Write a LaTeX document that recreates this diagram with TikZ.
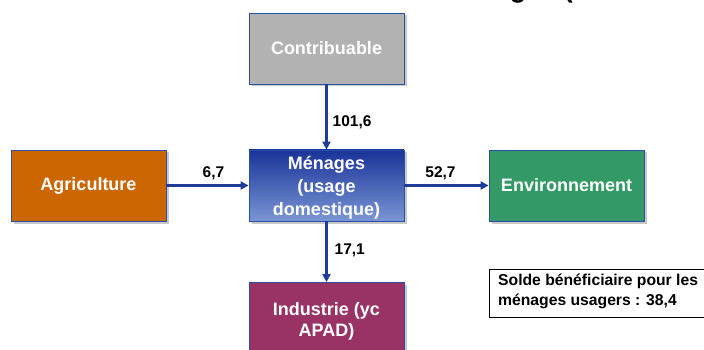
\documentclass[tikz,border=0pt]{standalone}
\usepackage{fontspec}
\setmainfont{Liberation Sans}
\usetikzlibrary{shadows,arrows.meta}
\definecolor{edgeblue}{HTML}{2A4FA8}
\definecolor{arrblue}{HTML}{1F3C99}
\definecolor{cgray}{HTML}{B2B2B2}
\definecolor{corange}{HTML}{CC6600}
\definecolor{cgreen}{HTML}{339966}
\definecolor{cmaroon}{HTML}{993366}
\definecolor{mtop}{HTML}{1A3399}
\definecolor{mbot}{HTML}{7A96D4}
\tikzset{
  box/.style={draw=edgeblue, line width=0.8pt, minimum width=155pt, minimum height=71pt,
    inner sep=0pt, text=white, align=center,
    font=\fontsize{18}{23}\selectfont\bfseries,
    drop shadow={shadow xshift=2.5pt, shadow yshift=-2.5pt, fill=black!35, opacity=0.6}},
  flow/.style={draw=arrblue, line width=2.4pt, -{Triangle[length=8pt,width=8pt]}},
  lbl/.style={font=\fontsize{15.5}{18}\selectfont\bfseries, text=black, inner sep=0pt}
}
\begin{document}
\begin{tikzpicture}[x=1pt,y=-1pt]
\useasboundingbox (0,0) rectangle (704,350);
\clip (0,0) rectangle (704,350);
\fill[white] (0,0) rectangle (704,350);
% cut title fragment
\node[anchor=base east, inner sep=0pt, font=\fontsize{27}{30}\selectfont\bfseries] (title) at (573,-2.5) {Ménages (};
% boxes
\node[box, fill=cgray] (contrib) at (326.5,48.5) {Contribuable};
\node[box, top color=mtop, bottom color=mbot] (menages) at (326.5,185.5) {};
\node[font=\fontsize{18}{23}\selectfont\bfseries, text=white, align=center, inner sep=0pt] (ment) at (326.5,187.5) {Ménages\\(usage\\domestique)};
\node[box, fill=corange] (agri) at (88.5,185.5) {Agriculture};
\node[box, fill=cgreen] (env) at (566.5,185.5) {Environnement};
\node[box, fill=cmaroon] (indus) at (326.5,318) {};
\node[font=\fontsize{18}{21}\selectfont\bfseries, text=white, align=center, inner sep=0pt] (indust) at (326.5,321) {Industrie (yc\\APAD)};
% solde box
\node[draw=black, line width=0.9pt, minimum width=222pt, minimum height=48pt, anchor=north west, inner sep=0pt] (solde) at (489,269) {};
\node[anchor=north west, align=left, inner sep=0pt, font=\fontsize{15.7}{20}\selectfont\bfseries] (soldet) at (498,274) {Solde bénéficiaire pour les\\ménages usagers : 38,4};
% flows
\draw[flow] (contrib.south) -- (menages.north) node[lbl, midway, right=5pt, yshift=-5pt] (l1) {101,6};
\draw[flow] (agri.east) -- (menages.west) node[lbl, midway, above=4pt, xshift=6pt] (l2) {6,7};
\draw[flow] (menages.east) -- (env.west) node[lbl, midway, above=4pt, xshift=-6pt] (l3) {52,7};
\draw[flow] (menages.south) -- (indus.north) node[lbl, midway, right=7pt, yshift=1pt] (l4) {17,1};
\end{tikzpicture}
\end{document}
